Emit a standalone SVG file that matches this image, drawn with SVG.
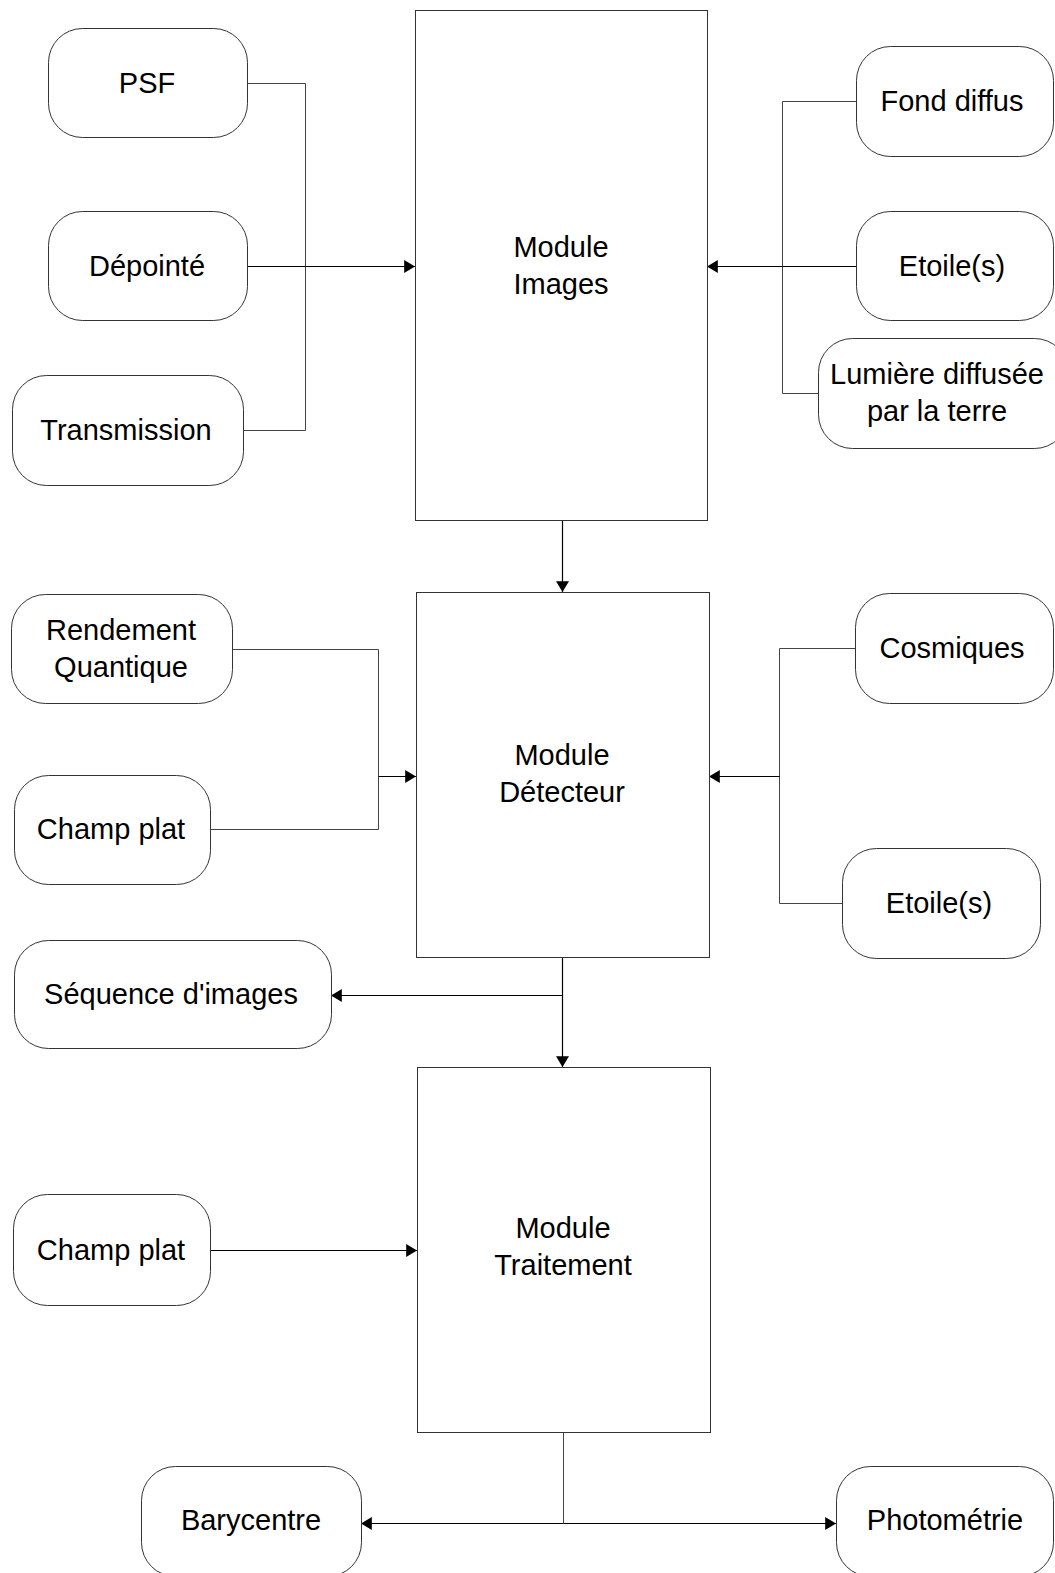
<svg xmlns="http://www.w3.org/2000/svg" width="1055" height="1573" viewBox="0 0 1055 1573">
<style>
.n{fill:#fff;stroke:#333;stroke-width:1}
.m{fill:#fff;stroke:#333;stroke-width:1}
.t{font-family:"Liberation Sans",Arial,sans-serif;font-size:29px;fill:#000;text-anchor:middle;dominant-baseline:central}
.c{fill:none;stroke:#444;stroke-width:1}
.a{fill:none;stroke:#000;stroke-width:1.2;marker-end:url(#ah)}
</style>
<defs>
<marker id="ah" viewBox="0 0 10 12" refX="10" refY="6" markerWidth="11" markerHeight="13" markerUnits="userSpaceOnUse" orient="auto-start-reverse">
<path d="M0,0 L10,6 L0,12 Z" fill="#000"/>
</marker>
</defs>
<rect width="1055" height="1573" fill="#fff"/>
<g id="connectors">
<polyline class="c" points="247,83.5 305.5,83.5 305.5,430.5 243,430.5"/>
<line class="a" x1="247" y1="266.5" x2="415" y2="266.5"/>
<polyline class="c" points="856,101.5 782.5,101.5 782.5,393.5 818,393.5"/>
<line class="a" x1="856" y1="266.5" x2="707" y2="266.5"/>
<line class="a" x1="562.5" y1="520" x2="562.5" y2="592"/>
<polyline class="c" points="232,649.5 378.5,649.5 378.5,829.5 210,829.5"/>
<line class="a" x1="378.5" y1="776.5" x2="416" y2="776.5"/>
<polyline class="c" points="855,648.5 779.5,648.5 779.5,903.5 842,903.5"/>
<line class="a" x1="779.5" y1="776.5" x2="709" y2="776.5"/>
<line class="a" x1="562.5" y1="957" x2="562.5" y2="1067"/>
<line class="a" x1="562.5" y1="995.5" x2="331" y2="995.5"/>
<line class="a" x1="210" y1="1250.5" x2="417" y2="1250.5"/>
<line class="c" x1="563.5" y1="1432" x2="563.5" y2="1523.5"/>
<line class="a" x1="563.5" y1="1523.5" x2="361" y2="1523.5"/>
<line class="a" x1="563.5" y1="1523.5" x2="836" y2="1523.5"/>
</g>
<g id="psf"><rect class="n" x="48.5" y="28.5" width="199" height="109" rx="34"/><text class="t" x="147" y="83">PSF</text></g>
<g id="depointe"><rect class="n" x="48.5" y="211.5" width="199" height="109" rx="34"/><text class="t" x="147" y="266">Dépointé</text></g>
<g id="transmission"><rect class="n" x="12.5" y="375.5" width="231" height="110" rx="34"/><text class="t" x="126" y="430">Transmission</text></g>
<g id="module-images"><rect class="m" x="415.5" y="10.5" width="292" height="510"/><text class="t" x="561" y="247">Module</text><text class="t" x="561" y="284">Images</text></g>
<g id="fond-diffus"><rect class="n" x="856.5" y="46.5" width="197" height="110" rx="34"/><text class="t" x="952" y="101">Fond diffus</text></g>
<g id="etoiles1"><rect class="n" x="856.5" y="211.5" width="197" height="109" rx="34"/><text class="t" x="952" y="266">Etoile(s)</text></g>
<g id="lumiere"><rect class="n" x="818.5" y="338.5" width="250" height="110" rx="34"/><text class="t" x="937" y="374">Lumière diffusée</text><text class="t" x="937" y="411">par la terre</text></g>
<g id="rendement"><rect class="n" x="11.5" y="594.5" width="221" height="109" rx="34"/><text class="t" x="121" y="630">Rendement</text><text class="t" x="121" y="667">Quantique</text></g>
<g id="champ-plat1"><rect class="n" x="14.5" y="775.5" width="196" height="109" rx="34"/><text class="t" x="111" y="829">Champ plat</text></g>
<g id="module-detecteur"><rect class="m" x="416.5" y="592.5" width="293" height="365"/><text class="t" x="562" y="755">Module</text><text class="t" x="562" y="792">Détecteur</text></g>
<g id="cosmiques"><rect class="n" x="855.5" y="593.5" width="198" height="110" rx="34"/><text class="t" x="952" y="648">Cosmiques</text></g>
<g id="etoiles2"><rect class="n" x="842.5" y="848.5" width="198" height="110" rx="34"/><text class="t" x="939" y="903">Etoile(s)</text></g>
<g id="sequence"><rect class="n" x="14.5" y="940.5" width="317" height="108" rx="34"/><text class="t" x="171" y="994">Séquence d'images</text></g>
<g id="module-traitement"><rect class="m" x="417.5" y="1067.5" width="293" height="365"/><text class="t" x="563" y="1228">Module</text><text class="t" x="563" y="1265">Traitement</text></g>
<g id="champ-plat2"><rect class="n" x="13.5" y="1194.5" width="197" height="111" rx="34"/><text class="t" x="111" y="1250">Champ plat</text></g>
<g id="barycentre"><rect class="n" x="141.5" y="1466.5" width="220" height="110" rx="34"/><text class="t" x="251" y="1520">Barycentre</text></g>
<g id="photometrie"><rect class="n" x="836.5" y="1466.5" width="217" height="110" rx="34"/><text class="t" x="945" y="1520">Photométrie</text></g>
</svg>
